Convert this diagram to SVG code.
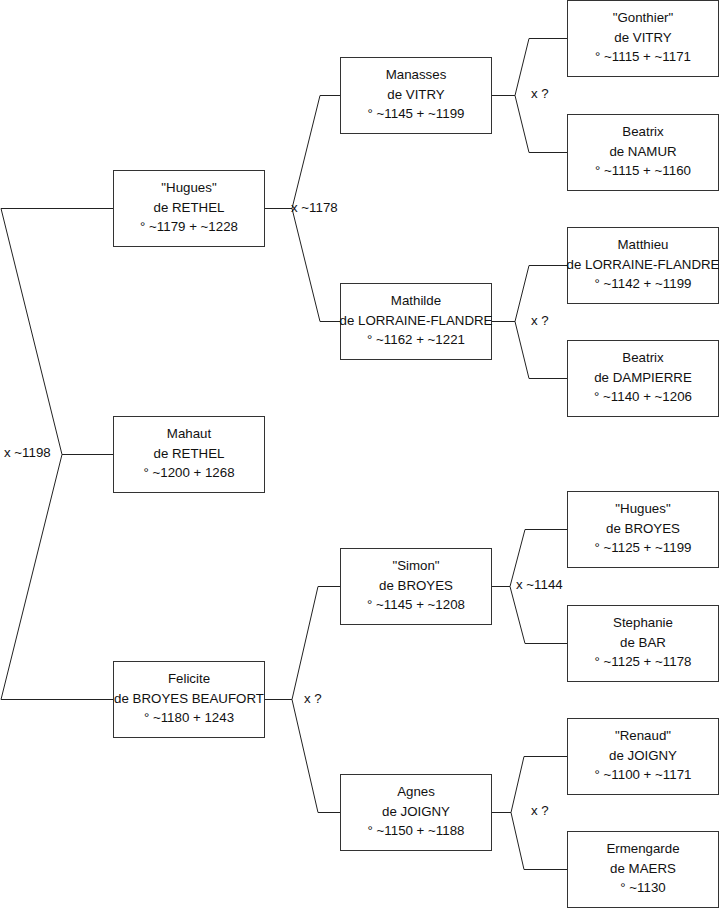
<svg xmlns="http://www.w3.org/2000/svg" width="719" height="908" viewBox="0 0 719 908">
<style>
.box{fill:#fff;stroke:#333;stroke-width:1}
.t{font-family:"Liberation Sans",Arial,sans-serif;font-size:13.3px;fill:#111;text-anchor:middle}
.lbl{font-family:"Liberation Sans",Arial,sans-serif;font-size:13.3px;fill:#111}
.c{fill:none;stroke:#222;stroke-width:1}
</style>
<rect width="719" height="908" fill="#fff"/>
<g id="connectors" class="c">
<path d="M113,208.5 H1 L62,454.5 L1,699.5 H113 M62,454.5 H113"/>
<path d="M265,208.5 H292 M340,95.5 H320 L292,208.5 L320,321.5 H340"/>
<path d="M265,699.5 H292 M340,586.5 H318 L292,699.5 L318,812.5 H340"/>
<path d="M492,95.5 H515 M567,38.5 H529 L515,95.5 L529,152.5 H567"/>
<path d="M492,321.5 H515 M567,265.5 H529 L515,321.5 L529,378.5 H567"/>
<path d="M492,586.5 H510 M567,529.5 H525 L510,586.5 L525,643.5 H567"/>
<path d="M492,812.5 H511 M567,756.5 H524 L511,812.5 L524,869.5 H567"/>
</g>
<g id="labels">
<text class="lbl" x="4" y="457">x ~1198</text>
<text class="lbl" x="291" y="212">x ~1178</text>
<text class="lbl" x="304" y="703">x ?</text>
<text class="lbl" x="531" y="98">x ?</text>
<text class="lbl" x="531" y="325">x ?</text>
<text class="lbl" x="516" y="589">x ~1144</text>
<text class="lbl" x="531" y="815">x ?</text>
</g>
<g id="hugues_rethel">
<rect class="box" x="113.5" y="170.5" width="151" height="76"/>
<text class="t" x="189" y="192">"Hugues"<tspan x="189" dy="19.7">de RETHEL</tspan><tspan x="189" dy="19.7">° ~1179 + ~1228</tspan></text>
</g>
<g id="mahaut_rethel">
<rect class="box" x="113.5" y="416.5" width="151" height="76"/>
<text class="t" x="189" y="438">Mahaut<tspan x="189" dy="19.7">de RETHEL</tspan><tspan x="189" dy="19.7">° ~1200 + 1268</tspan></text>
</g>
<g id="felicite_broyes">
<rect class="box" x="113.5" y="661.5" width="151" height="76"/>
<text class="t" x="189" y="683">Felicite<tspan x="189" dy="19.7">de BROYES BEAUFORT</tspan><tspan x="189" dy="19.7">° ~1180 + 1243</tspan></text>
</g>
<g id="manasses_vitry">
<rect class="box" x="340.5" y="57.5" width="151" height="76"/>
<text class="t" x="416" y="79">Manasses<tspan x="416" dy="19.7">de VITRY</tspan><tspan x="416" dy="19.7">° ~1145 + ~1199</tspan></text>
</g>
<g id="mathilde_lorraine">
<rect class="box" x="340.5" y="283.5" width="151" height="76"/>
<text class="t" x="416" y="305">Mathilde<tspan x="416" dy="19.7">de LORRAINE-FLANDRE</tspan><tspan x="416" dy="19.7">° ~1162 + ~1221</tspan></text>
</g>
<g id="simon_broyes">
<rect class="box" x="340.5" y="548.5" width="151" height="76"/>
<text class="t" x="416" y="570">"Simon"<tspan x="416" dy="19.7">de BROYES</tspan><tspan x="416" dy="19.7">° ~1145 + ~1208</tspan></text>
</g>
<g id="agnes_joigny">
<rect class="box" x="340.5" y="774.5" width="151" height="76"/>
<text class="t" x="416" y="796">Agnes<tspan x="416" dy="19.7">de JOIGNY</tspan><tspan x="416" dy="19.7">° ~1150 + ~1188</tspan></text>
</g>
<g id="gonthier_vitry">
<rect class="box" x="567.5" y="0.5" width="151" height="76"/>
<text class="t" x="643" y="22">"Gonthier"<tspan x="643" dy="19.7">de VITRY</tspan><tspan x="643" dy="19.7">° ~1115 + ~1171</tspan></text>
</g>
<g id="beatrix_namur">
<rect class="box" x="567.5" y="114.5" width="151" height="76"/>
<text class="t" x="643" y="136">Beatrix<tspan x="643" dy="19.7">de NAMUR</tspan><tspan x="643" dy="19.7">° ~1115 + ~1160</tspan></text>
</g>
<g id="matthieu_lorraine">
<rect class="box" x="567.5" y="227.5" width="151" height="76"/>
<text class="t" x="643" y="249">Matthieu<tspan x="643" dy="19.7">de LORRAINE-FLANDRE</tspan><tspan x="643" dy="19.7">° ~1142 + ~1199</tspan></text>
</g>
<g id="beatrix_dampierre">
<rect class="box" x="567.5" y="340.5" width="151" height="76"/>
<text class="t" x="643" y="362">Beatrix<tspan x="643" dy="19.7">de DAMPIERRE</tspan><tspan x="643" dy="19.7">° ~1140 + ~1206</tspan></text>
</g>
<g id="hugues_broyes">
<rect class="box" x="567.5" y="491.5" width="151" height="76"/>
<text class="t" x="643" y="513">"Hugues"<tspan x="643" dy="19.7">de BROYES</tspan><tspan x="643" dy="19.7">° ~1125 + ~1199</tspan></text>
</g>
<g id="stephanie_bar">
<rect class="box" x="567.5" y="605.5" width="151" height="76"/>
<text class="t" x="643" y="627">Stephanie<tspan x="643" dy="19.7">de BAR</tspan><tspan x="643" dy="19.7">° ~1125 + ~1178</tspan></text>
</g>
<g id="renaud_joigny">
<rect class="box" x="567.5" y="718.5" width="151" height="76"/>
<text class="t" x="643" y="740">"Renaud"<tspan x="643" dy="19.7">de JOIGNY</tspan><tspan x="643" dy="19.7">° ~1100 + ~1171</tspan></text>
</g>
<g id="ermengarde_maers">
<rect class="box" x="567.5" y="831.5" width="151" height="76"/>
<text class="t" x="643" y="853">Ermengarde<tspan x="643" dy="19.7">de MAERS</tspan><tspan x="643" dy="19.7">° ~1130</tspan></text>
</g>
</svg>
